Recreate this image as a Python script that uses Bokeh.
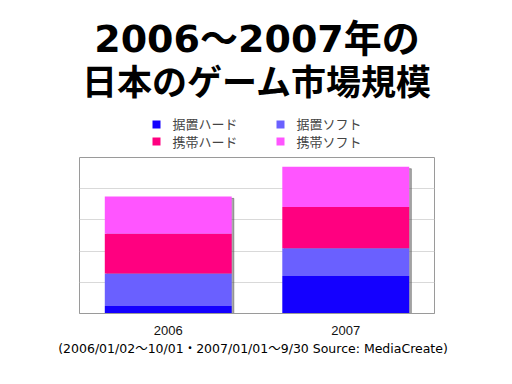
from bokeh.plotting import figure
from bokeh.models import (ColumnDataSource, FactorRange, Range1d, FixedTicker,
                          Legend, LegendItem, Title, Label)
from bokeh.layouts import column
from bokeh.transform import dodge
from bokeh.embed import file_html
from bokeh.resources import INLINE

# ---- data (estimated, units: grid steps x 1000) ----
categories = ["2006", "2007"]
console_hw = [240, 1200]     # 据置ハード
console_sw = [1040, 890]     # 据置ソフト
handheld_hw = [1280, 1320]   # 携帯ハード
handheld_sw = [1190, 1290]   # 携帯ソフト
series_names = ["据置ハード", "据置ソフト", "携帯ハード", "携帯ソフト"]
grid_ticks = [1000, 2000, 3000, 4000, 5000]
y_max = 5000

title_line1 = "2006〜2007年の"
title_line2 = "日本のゲーム市場規模"
footer = "(2006/01/02〜10/01・2007/01/01〜9/30   Source: MediaCreate)"

colors = ["#1400ff", "#6a60ff", "#ff0080", "#ff55ff"]
keys = ["chw", "csw", "hhw", "hsw"]

totals = [a + b + c + d for a, b, c, d in zip(console_hw, console_sw, handheld_hw, handheld_sw)]
src = ColumnDataSource(dict(cat=categories, chw=console_hw, csw=console_sw,
                            hhw=handheld_hw, hsw=handheld_sw, total=totals))

CJK = "Noto Sans CJK JP"

# ---------- header: title + legend ----------
head = figure(width=512, height=156, x_range=Range1d(0, 1), y_range=Range1d(0, 1),
              x_axis_type=None, y_axis_type=None,
              min_border_left=79, min_border_right=78, min_border_top=0, min_border_bottom=0,
              output_backend="svg", toolbar_location=None, outline_line_color=None)
head.grid.visible = False

# invisible (zero-height) renderers that only carry the legend swatch colours
dummy = ColumnDataSource(dict(x=[0.5], top=[0.0]))
leg_r = [head.vbar(x="x", top="top", bottom=0, width=0.001, color=c, line_color=None,
                   source=dummy) for c in colors]

head.add_layout(Label(x=177.5, y=118, x_units="screen", y_units="screen",
                      text=title_line1, text_align="center", text_baseline="alphabetic",
                      text_font="DejaVu Sans, Noto Sans CJK JP", text_font_size="38px",
                      text_font_style="bold", text_color="black"))
head.add_layout(Label(x=177.5, y=77, x_units="screen", y_units="screen",
                      text=title_line2, text_align="center", text_baseline="alphabetic",
                      text_font=CJK, text_font_size="35px",
                      text_font_style="bold", text_color="black"))

def make_legend(idx, sy):
    return Legend(items=[LegendItem(label=series_names[i], renderers=[leg_r[i]]) for i in idx],
                  location=(72.4, sy), orientation="horizontal",
                  glyph_width=10, glyph_height=10, label_standoff=11,
                  label_text_font=CJK, label_text_font_size="13px",
                  label_height=18, spacing=38, padding=0, margin=0,
                  border_line_color=None, background_fill_alpha=0)

head.add_layout(make_legend([0, 1], 23), "center")
head.add_layout(make_legend([2, 3], 5.3), "center")

# ---------- main chart ----------
p = figure(x_range=FactorRange(*categories, range_padding=0),
           y_range=Range1d(0, y_max),
           frame_width=355, frame_height=156,
           min_border_left=79, min_border_right=78,
           min_border_top=1, min_border_bottom=63,
           output_backend="svg", toolbar_location=None,
           background_fill_color="white", border_fill_color="white")

# shadow
p.vbar(x=dodge("cat", 0.012, range=p.x_range), top=dodge("total", -60),
       bottom=0, width=0.715, color="#555555", alpha=0.5, source=src)

rs = p.vbar_stack(keys, x="cat", width=0.715, color=colors, line_color=None, source=src)

p.outline_line_color = "#9a9a9a"
p.xgrid.visible = False
p.ygrid.ticker = FixedTicker(ticks=grid_ticks)
p.ygrid.grid_line_color = "#d9d9d9"
p.yaxis.visible = False
p.xaxis.axis_line_color = "#9a9a9a"
p.xaxis.major_tick_line_color = None
p.xaxis.minor_tick_line_color = None
p.xaxis.major_label_text_font = "Liberation Sans"
p.xaxis.major_label_text_font_size = "13px"
p.xaxis.major_label_text_color = "#111111"
p.xaxis.major_label_standoff = 6

p.add_layout(Title(text=footer, align="center", text_font="DejaVu Sans, Noto Sans CJK JP",
                   text_font_size="12.5px", text_font_style="normal",
                   text_color="black", standoff=3), "below")

layout = column(head, p, spacing=0)
open("out.html", "w").write(file_html(layout, INLINE))
